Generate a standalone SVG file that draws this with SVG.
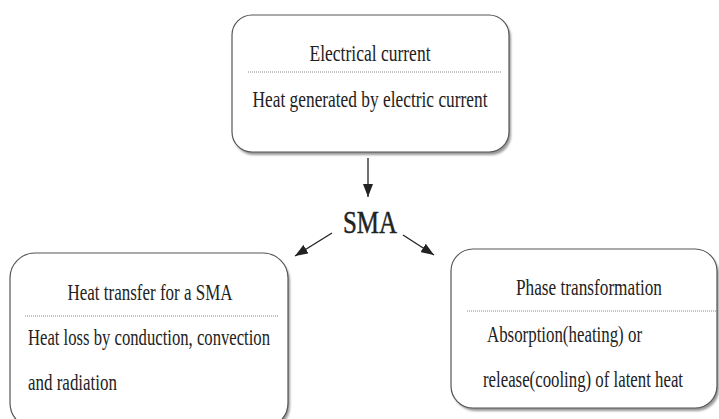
<svg xmlns="http://www.w3.org/2000/svg" width="719" height="419" viewBox="0 0 719 419">
<style>
.box{fill:#fff;stroke:#555;stroke-width:1.2}
.shadow{fill:#999;filter:url(#blur)}
.t{font-family:"Liberation Serif","Times New Roman",serif;font-size:23px;fill:#222}
.sma{font-family:"Liberation Serif","Times New Roman",serif;font-size:32px;fill:#222;stroke:#222;stroke-width:0.5}
.dot{stroke:#888;stroke-width:1;stroke-dasharray:1 1}
.conn{stroke:#222;stroke-width:1.3;fill:none}
</style>
<defs>
<filter id="blur" x="-10%" y="-10%" width="120%" height="120%"><feGaussianBlur stdDeviation="1.2"/></filter>
<marker id="ah" markerWidth="14" markerHeight="10" refX="13" refY="5" orient="auto" markerUnits="userSpaceOnUse">
<path d="M0,0 L13,5 L0,10 Z" fill="#222"/>
</marker>
</defs>
<g id="node-electrical">
<rect class="shadow" x="234" y="18" width="277" height="137" rx="20"/>
<rect class="box" x="232" y="15" width="277" height="137" rx="20"/>
<text class="t" x="370" y="61" text-anchor="middle" textLength="121" lengthAdjust="spacingAndGlyphs">Electrical current</text>
<line class="dot" x1="248" y1="72" x2="502" y2="72"/>
<text class="t" x="370" y="107" text-anchor="middle" textLength="235" lengthAdjust="spacingAndGlyphs">Heat generated by electric current</text>
</g>
<g id="node-sma">
<text class="sma" x="370" y="233" text-anchor="middle" textLength="54" lengthAdjust="spacingAndGlyphs">SMA</text>
</g>
<g id="node-heat-transfer">
<rect class="shadow" x="12" y="256" width="278" height="175" rx="25"/>
<rect class="box" x="10" y="253" width="278" height="175" rx="25"/>
<text class="t" x="150" y="300" text-anchor="middle" textLength="165" lengthAdjust="spacingAndGlyphs">Heat transfer for a SMA</text>
<line class="dot" x1="25" y1="316" x2="278" y2="316"/>
<text class="t" x="28" y="345" textLength="242" lengthAdjust="spacingAndGlyphs">Heat loss by conduction, convection</text>
<text class="t" x="28" y="390" textLength="89" lengthAdjust="spacingAndGlyphs">and radiation</text>
</g>
<g id="node-phase">
<rect class="shadow" x="453" y="252" width="266" height="159" rx="22"/>
<rect class="box" x="451" y="249" width="266" height="159" rx="22"/>
<text class="t" x="589" y="295" text-anchor="middle" textLength="146" lengthAdjust="spacingAndGlyphs">Phase transformation</text>
<line class="dot" x1="467" y1="311" x2="717" y2="311"/>
<text class="t" x="487" y="342" textLength="155" lengthAdjust="spacingAndGlyphs">Absorption(heating) or</text>
<text class="t" x="483" y="387" textLength="200" lengthAdjust="spacingAndGlyphs">release(cooling) of latent heat</text>
</g>
<g id="connectors">
<line class="conn" x1="368" y1="158" x2="368" y2="197" marker-end="url(#ah)"/>
<line class="conn" x1="332" y1="233" x2="295" y2="256" marker-end="url(#ah)"/>
<line class="conn" x1="403" y1="235" x2="434" y2="255" marker-end="url(#ah)"/>
</g>
</svg>
